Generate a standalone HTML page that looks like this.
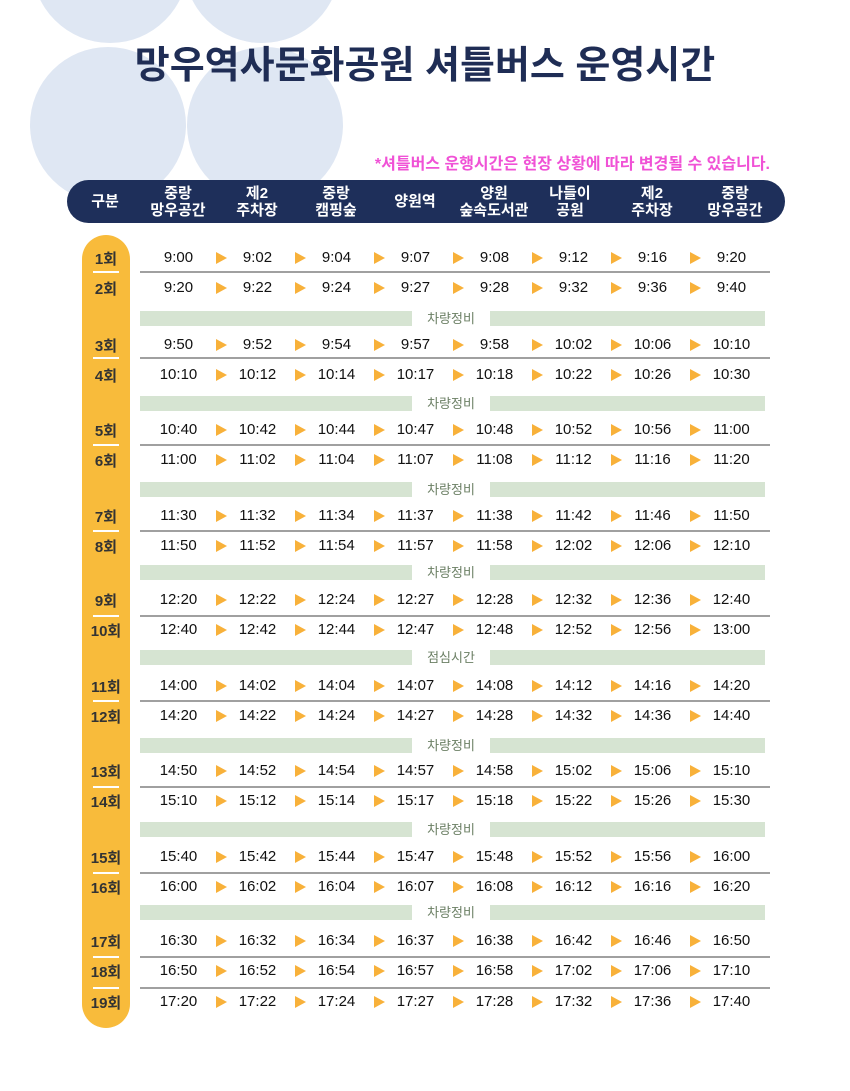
<!DOCTYPE html>
<html><head><meta charset="utf-8"><style>
body{margin:0;width:850px;height:1091px;background:#fff;position:relative;overflow:hidden;font-family:"Liberation Sans","Noto Sans CJK KR",sans-serif}
.c{position:absolute;border-radius:50%;background:#dfe7f3}
.title{position:absolute;left:0;width:850px;top:34px;text-align:center;font-size:38px;font-weight:bold;color:#1f2d55;letter-spacing:0}
.note{position:absolute;right:80px;top:150px;font-size:16px;font-weight:bold;color:#f052d6}
.hdr{position:absolute;left:67px;top:180px;width:718px;height:43px;background:#1e2f5a;border-radius:22px}
.h{position:absolute;top:183px;width:90px;margin-left:-45px;text-align:center;color:#fff;font-weight:bold;font-size:15px;line-height:17px;height:37px;display:flex;align-items:center;justify-content:center}
.pill{position:absolute;left:82px;top:235px;width:48px;height:793px;background:#f8bb3b;border-radius:24px}
.lb{position:absolute;left:82px;width:48px;text-align:center;font-weight:bold;font-size:15px;color:#333;margin-top:-10px}
.ul{position:absolute;left:93px;width:26px;height:2px;background:#fff}
.row{position:absolute;left:139px;height:20px;margin-top:-10px;display:flex}
.row span{position:relative;width:79px;text-align:center;font-size:15px;line-height:20px;color:#111}
.row span:not(:last-child)::after{content:"";position:absolute;left:77px;top:4px;border-left:11px solid #f8b13a;border-top:6px solid transparent;border-bottom:6px solid transparent}
.sep{position:absolute;left:140px;width:630px;height:1.5px;background:#a0a0a0}
.br{position:absolute;left:140px;width:625px;height:15px;margin-top:-7px;background:#d6e4d2}
.br b{position:absolute;left:272px;width:78px;top:-2px;background:#fff;text-align:center;font-size:13px;font-weight:normal;color:#6b7f64;line-height:19px}
</style></head><body>
<div class="c" style="left:32px;top:-113px;width:156px;height:156px"></div>
<div class="c" style="left:184px;top:-113px;width:156px;height:156px"></div>
<div class="c" style="left:30px;top:47px;width:156px;height:156px"></div>
<div class="c" style="left:187px;top:47px;width:156px;height:156px"></div>
<div class="title">망우역사문화공원 셔틀버스 운영시간</div>
<div class="note">*셔틀버스 운행시간은 현장 상황에 따라 변경될 수 있습니다.</div>
<div class="hdr"></div>
<div class="h" style="left:105px">구분</div>
<div class="h" style="left:178px">중랑<br>망우공간</div>
<div class="h" style="left:257px">제2<br>주차장</div>
<div class="h" style="left:336px">중랑<br>캠핑숲</div>
<div class="h" style="left:415px">양원역</div>
<div class="h" style="left:494px">양원<br>숲속도서관</div>
<div class="h" style="left:570px">나들이<br>공원</div>
<div class="h" style="left:652px">제2<br>주차장</div>
<div class="h" style="left:735px">중랑<br>망우공간</div>
<div class="pill"></div>

<div class="lb" style="top:258px">1회</div><div class="lb" style="top:288px">2회</div><div class="ul" style="top:271px"></div>
<div class="lb" style="top:345px">3회</div><div class="lb" style="top:375px">4회</div><div class="ul" style="top:357px"></div>
<div class="lb" style="top:430px">5회</div><div class="lb" style="top:460px">6회</div><div class="ul" style="top:444px"></div>
<div class="lb" style="top:516px">7회</div><div class="lb" style="top:546px">8회</div><div class="ul" style="top:530px"></div>
<div class="lb" style="top:600px">9회</div><div class="lb" style="top:630px">10회</div><div class="ul" style="top:615px"></div>
<div class="lb" style="top:686px">11회</div><div class="lb" style="top:716px">12회</div><div class="ul" style="top:700px"></div>
<div class="lb" style="top:771px">13회</div><div class="lb" style="top:801px">14회</div><div class="ul" style="top:786px"></div>
<div class="lb" style="top:857px">15회</div><div class="lb" style="top:887px">16회</div><div class="ul" style="top:872px"></div>
<div class="lb" style="top:941px">17회</div><div class="lb" style="top:971px">18회</div><div class="lb" style="top:1002px">19회</div><div class="ul" style="top:956px"></div><div class="ul" style="top:987px"></div>

<div class="sep" style="top:271px"></div><div class="sep" style="top:357px"></div><div class="sep" style="top:444px"></div><div class="sep" style="top:530px"></div><div class="sep" style="top:615px"></div><div class="sep" style="top:700px"></div><div class="sep" style="top:786px"></div><div class="sep" style="top:872px"></div><div class="sep" style="top:956px"></div><div class="sep" style="top:987px"></div>

<div class="br" style="top:318px"><b>차량정비</b></div>
<div class="br" style="top:403px"><b>차량정비</b></div>
<div class="br" style="top:489px"><b>차량정비</b></div>
<div class="br" style="top:572px"><b>차량정비</b></div>
<div class="br" style="top:657px"><b>점심시간</b></div>
<div class="br" style="top:745px"><b>차량정비</b></div>
<div class="br" style="top:829px"><b>차량정비</b></div>
<div class="br" style="top:912px"><b>차량정비</b></div>

<div class="row" style="top:258px"><span>9:00</span><span>9:02</span><span>9:04</span><span>9:07</span><span>9:08</span><span>9:12</span><span>9:16</span><span>9:20</span></div>
<div class="row" style="top:288px"><span>9:20</span><span>9:22</span><span>9:24</span><span>9:27</span><span>9:28</span><span>9:32</span><span>9:36</span><span>9:40</span></div>
<div class="row" style="top:345px"><span>9:50</span><span>9:52</span><span>9:54</span><span>9:57</span><span>9:58</span><span>10:02</span><span>10:06</span><span>10:10</span></div>
<div class="row" style="top:375px"><span>10:10</span><span>10:12</span><span>10:14</span><span>10:17</span><span>10:18</span><span>10:22</span><span>10:26</span><span>10:30</span></div>
<div class="row" style="top:430px"><span>10:40</span><span>10:42</span><span>10:44</span><span>10:47</span><span>10:48</span><span>10:52</span><span>10:56</span><span>11:00</span></div>
<div class="row" style="top:460px"><span>11:00</span><span>11:02</span><span>11:04</span><span>11:07</span><span>11:08</span><span>11:12</span><span>11:16</span><span>11:20</span></div>
<div class="row" style="top:516px"><span>11:30</span><span>11:32</span><span>11:34</span><span>11:37</span><span>11:38</span><span>11:42</span><span>11:46</span><span>11:50</span></div>
<div class="row" style="top:546px"><span>11:50</span><span>11:52</span><span>11:54</span><span>11:57</span><span>11:58</span><span>12:02</span><span>12:06</span><span>12:10</span></div>
<div class="row" style="top:600px"><span>12:20</span><span>12:22</span><span>12:24</span><span>12:27</span><span>12:28</span><span>12:32</span><span>12:36</span><span>12:40</span></div>
<div class="row" style="top:630px"><span>12:40</span><span>12:42</span><span>12:44</span><span>12:47</span><span>12:48</span><span>12:52</span><span>12:56</span><span>13:00</span></div>
<div class="row" style="top:686px"><span>14:00</span><span>14:02</span><span>14:04</span><span>14:07</span><span>14:08</span><span>14:12</span><span>14:16</span><span>14:20</span></div>
<div class="row" style="top:716px"><span>14:20</span><span>14:22</span><span>14:24</span><span>14:27</span><span>14:28</span><span>14:32</span><span>14:36</span><span>14:40</span></div>
<div class="row" style="top:771px"><span>14:50</span><span>14:52</span><span>14:54</span><span>14:57</span><span>14:58</span><span>15:02</span><span>15:06</span><span>15:10</span></div>
<div class="row" style="top:801px"><span>15:10</span><span>15:12</span><span>15:14</span><span>15:17</span><span>15:18</span><span>15:22</span><span>15:26</span><span>15:30</span></div>
<div class="row" style="top:857px"><span>15:40</span><span>15:42</span><span>15:44</span><span>15:47</span><span>15:48</span><span>15:52</span><span>15:56</span><span>16:00</span></div>
<div class="row" style="top:887px"><span>16:00</span><span>16:02</span><span>16:04</span><span>16:07</span><span>16:08</span><span>16:12</span><span>16:16</span><span>16:20</span></div>
<div class="row" style="top:941px"><span>16:30</span><span>16:32</span><span>16:34</span><span>16:37</span><span>16:38</span><span>16:42</span><span>16:46</span><span>16:50</span></div>
<div class="row" style="top:971px"><span>16:50</span><span>16:52</span><span>16:54</span><span>16:57</span><span>16:58</span><span>17:02</span><span>17:06</span><span>17:10</span></div>
<div class="row" style="top:1002px"><span>17:20</span><span>17:22</span><span>17:24</span><span>17:27</span><span>17:28</span><span>17:32</span><span>17:36</span><span>17:40</span></div>
</body></html>
